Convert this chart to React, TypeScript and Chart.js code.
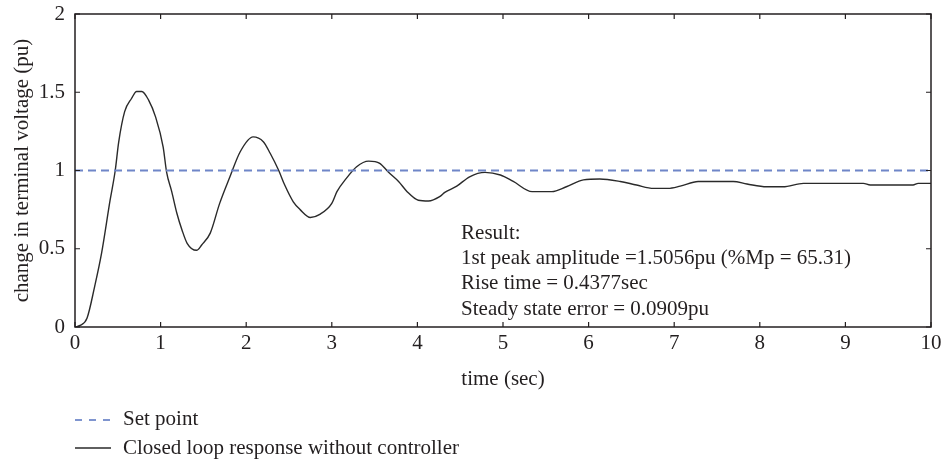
import React, { useEffect, useRef } from "react";
import { Chart, registerables } from "chart.js";

Chart.register(...registerables);

// ---- data ----
const timeSec = [0, 0.06, 0.14, 0.23, 0.31, 0.41, 0.47, 0.51, 0.58, 0.66, 0.72, 0.78, 0.86, 0.94, 1.03, 1.07, 1.13, 1.19, 1.25, 1.31, 1.42, 1.48, 1.58, 1.69, 1.81, 1.93, 2.08, 2.2, 2.28, 2.38, 2.45, 2.55, 2.63, 2.75, 2.86, 3.0, 3.06, 3.17, 3.29, 3.43, 3.56, 3.66, 3.78, 3.88, 4.01, 4.13, 4.26, 4.32, 4.46, 4.61, 4.79, 4.97, 5.12, 5.34, 5.57, 5.74, 5.94, 6.13, 6.37, 6.56, 6.76, 6.93, 7.07, 7.28, 7.69, 7.85, 8.08, 8.27, 8.51, 9.21, 9.29, 9.79, 9.85, 10];
const response = [0, 0.01, 0.056, 0.26, 0.47, 0.81, 1.0, 1.18, 1.376, 1.46, 1.505, 1.505, 1.45, 1.344, 1.15, 0.99, 0.865, 0.727, 0.62, 0.535, 0.49, 0.524, 0.6, 0.79, 0.96, 1.12, 1.215, 1.184, 1.11, 1.0, 0.907, 0.8, 0.75, 0.7, 0.72, 0.79, 0.865, 0.95, 1.024, 1.06, 1.046, 0.99, 0.93, 0.865, 0.81, 0.805, 0.833, 0.86, 0.9, 0.96, 0.988, 0.971, 0.93, 0.865, 0.865, 0.896, 0.94, 0.946, 0.93, 0.907, 0.886, 0.886, 0.9, 0.93, 0.93, 0.914, 0.896, 0.896, 0.918, 0.918, 0.907, 0.907, 0.918, 0.918];
const setPointTime = [0, 10];
const setPointValue = [1, 1];
const xTickValues = [0, 1, 2, 3, 4, 5, 6, 7, 8, 9, 10];
const yTickValues = [0, 0.5, 1, 1.5, 2];
const seriesLabels = ["Set point", "Closed loop response without controller"];
const xTitle = "time (sec)";
const yTitle = "change in terminal voltage (pu)";
const annotationLines = [
  "Result:",
  "1st peak amplitude =1.5056pu (%Mp = 65.31)",
  "Rise time = 0.4377sec",
  "Steady state error = 0.0909pu",
];
const annotationAnchor = { x: 4.51, y: 0.6 };

const FONT = '"Liberation Serif", "Times New Roman", serif';
const TEXT = "#231f20";
const FS = 21;

const framePlugin = {
  id: "frame",
  afterDraw(chart: any) {
    const { ctx, chartArea: a, scales } = chart;
    ctx.save();
    ctx.strokeStyle = TEXT;
    ctx.lineWidth = 1.5;
    ctx.strokeRect(a.left, a.top, a.right - a.left, a.bottom - a.top);
    const L = 5;
    ctx.lineWidth = 1.2;
    ctx.beginPath();
    scales.x.ticks.forEach((t: any) => {
      const px = scales.x.getPixelForValue(t.value);
      ctx.moveTo(px, a.bottom);
      ctx.lineTo(px, a.bottom - L);
      ctx.moveTo(px, a.top);
      ctx.lineTo(px, a.top + L);
    });
    scales.y.ticks.forEach((t: any) => {
      const py = scales.y.getPixelForValue(t.value);
      ctx.moveTo(a.left, py);
      ctx.lineTo(a.left + L, py);
      ctx.moveTo(a.right, py);
      ctx.lineTo(a.right - L, py);
    });
    ctx.stroke();

    // annotation
    ctx.font = `${FS}px ${FONT}`;
    ctx.fillStyle = TEXT;
    ctx.textAlign = "left";
    ctx.textBaseline = "middle";
    const ax = scales.x.getPixelForValue(annotationAnchor.x);
    const ay = scales.y.getPixelForValue(annotationAnchor.y);
    annotationLines.forEach((s, i) => ctx.fillText(s, ax, ay + i * 25.4));

    // legend
    chart.data.datasets.forEach((ds: any, i: number) => {
      const y = 419 + i * 29;
      const dashed = ds.borderDash && ds.borderDash.length;
      ctx.save();
      ctx.strokeStyle = dashed ? "#3b5cb6" : ds.borderColor;
      ctx.lineWidth = 1.3;
      ctx.setLineDash(dashed ? [7, 7] : []);
      ctx.beginPath();
      ctx.moveTo(75, y + (dashed ? 1 : 0));
      ctx.lineTo(111, y + (dashed ? 1 : 0));
      ctx.stroke();
      ctx.restore();
      ctx.fillStyle = TEXT;
      ctx.fillText(ds.label, 123, y);
    });
    ctx.restore();
  },
};

export default function App() {
  const ref = useRef<HTMLCanvasElement>(null);
  useEffect(() => {
    if (!ref.current) return;
    const chart = new Chart(ref.current, {
      type: "line",
      data: {
        datasets: [
          {
            label: seriesLabels[0],
            data: setPointTime.map((x, i) => ({ x, y: setPointValue[i] })),
            borderColor: "#6f86c8",
            borderWidth: 2,
            borderDash: [8, 5],
            pointRadius: 0,
            fill: false,
          },
          {
            label: seriesLabels[1],
            data: timeSec.map((x, i) => ({ x, y: response[i] })),
            borderColor: "#2a2a2a",
            borderWidth: 1.4,
            pointRadius: 0,
            cubicInterpolationMode: "monotone",
            fill: false,
          },
        ],
      },
      options: {
        animation: false,
        responsive: true,
        maintainAspectRatio: false,
        layout: { padding: { left: 0, top: 14, right: 12, bottom: 76 } },
        plugins: { legend: { display: false }, tooltip: { enabled: false } },
        scales: {
          x: {
            type: "linear",
            min: 0,
            max: 10,
            afterBuildTicks: (s: any) => {
              s.ticks = xTickValues.map((v) => ({ value: v }));
            },
            afterFit: (s: any) => {
              s.height = 65;
              s.paddingLeft = 0;
              s.paddingRight = 0;
            },
            grid: { display: false, drawTicks: false },
            border: { display: false },
            ticks: { color: TEXT, font: { family: FONT, size: FS }, padding: 4, maxRotation: 0, autoSkip: false, callback: (v: any) => String(v) },
            title: { display: true, text: xTitle, color: TEXT, font: { family: FONT, size: FS }, padding: { top: 0, bottom: 0 } },
          },
          y: {
            type: "linear",
            min: 0,
            max: 2,
            afterBuildTicks: (s: any) => {
              s.ticks = yTickValues.map((v) => ({ value: v }));
            },
            afterFit: (s: any) => {
              s.width = 75;
              s.paddingTop = 0;
              s.paddingBottom = 0;
            },
            grid: { display: false, drawTicks: false },
            border: { display: false },
            ticks: { color: TEXT, font: { family: FONT, size: FS }, padding: 10, autoSkip: false, callback: (v: any) => String(v) },
            title: { display: true, text: yTitle, color: TEXT, font: { family: FONT, size: FS }, padding: { top: 9.5, bottom: 9.5 } },
          },
        },
      },
      plugins: [framePlugin],
    });
    return () => chart.destroy();
  }, []);
  return (
    <div style={{ position: "fixed", left: 0, top: 0, width: 943, height: 468, background: "#fff" }}>
      <canvas ref={ref} />
    </div>
  );
}
